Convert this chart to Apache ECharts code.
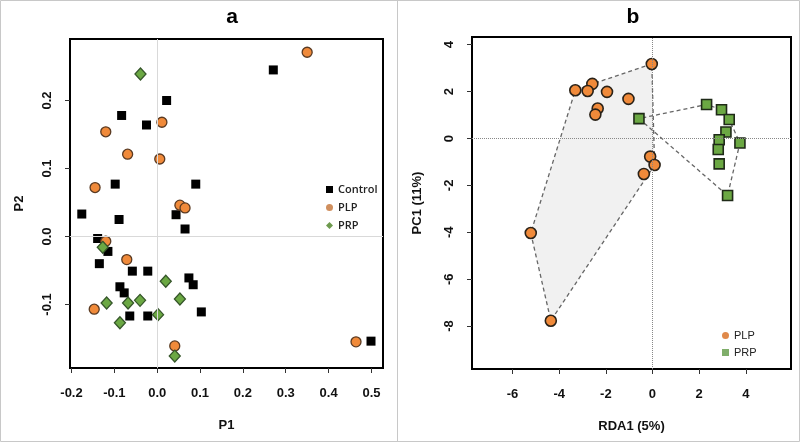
<!DOCTYPE html>
<html>
<head>
<meta charset="utf-8">
<script src="https://cdn.jsdelivr.net/npm/echarts@6/dist/echarts.min.js"></script>
<style>html,body{margin:0;padding:0;background:#fff}#c{width:800px;height:442px}</style>
</head>
<body>
<div id="c"></div>
<script>
// ---- Panel a data (P1, P2) ----
const controlA = [[0.271,0.245],[0.499,-0.154],[0.022,0.200],[-0.083,0.178],[-0.025,0.164],[-0.098,0.077],[0.090,0.077],[-0.176,0.033],[-0.089,0.025],[0.044,0.032],[0.065,0.011],[-0.139,-0.003],[-0.115,-0.022],[-0.135,-0.040],[-0.058,-0.051],[-0.022,-0.051],[0.074,-0.061],[0.084,-0.071],[-0.087,-0.074],[-0.077,-0.083],[0.103,-0.111],[-0.064,-0.117],[-0.022,-0.117]];
const plpA = [[0.350,0.271],[0.464,-0.155],[0.011,0.168],[-0.120,0.154],[-0.069,0.121],[0.006,0.114],[-0.145,0.072],[0.053,0.046],[0.065,0.042],[-0.120,-0.007],[-0.071,-0.034],[-0.147,-0.107],[0.041,-0.161]];
const prpA = [[-0.039,0.239],[-0.127,-0.016],[0.020,-0.066],[-0.118,-0.098],[-0.068,-0.098],[-0.040,-0.094],[0.053,-0.092],[0.002,-0.115],[-0.087,-0.127],[0.041,-0.176]];
const ticksAX = [-0.2,-0.1,0.0,0.1,0.2,0.3,0.4,0.5];
const ticksAY = [-0.1,0.0,0.1,0.2];

// ---- Panel b data (RDA1, PC1) ----
const plpB = [[-0.03,3.18],[-3.31,2.06],[-2.58,2.33],[-2.78,2.03],[-1.95,1.99],[-1.03,1.69],[-2.35,1.28],[-2.45,1.02],[-0.10,-0.77],[0.09,-1.13],[-0.37,-1.51],[-5.22,-4.03],[-4.36,-7.77]];
const prpB = [[-0.58,0.85],[2.32,1.45],[2.96,1.23],[3.29,0.81],[3.15,0.28],[2.86,-0.05],[3.75,-0.19],[2.82,-0.47],[2.86,-1.08],[3.22,-2.43]];
const ticksBX = [-6,-4,-2,0,2,4];
const ticksBY = [-8,-6,-4,-2,0,2,4];

function hull(pts){
  const p = pts.slice().sort((a,b)=>a[0]-b[0]||a[1]-b[1]);
  const cr=(o,a,b)=>(a[0]-o[0])*(b[1]-o[1])-(a[1]-o[1])*(b[0]-o[0]);
  const lo=[],up=[];
  for(const q of p){while(lo.length>=2&&cr(lo[lo.length-2],lo[lo.length-1],q)<=0)lo.pop();lo.push(q);}
  for(let i=p.length-1;i>=0;i--){const q=p[i];while(up.length>=2&&cr(up[up.length-2],up[up.length-1],q)<=0)up.pop();up.push(q);}
  up.pop();lo.pop();return lo.concat(up);
}
const hullPLP = hull(plpB), hullPRP = hull(prpB);

const tickFont = {fontFamily:'Liberation Sans',fontWeight:'bold',fontSize:13,color:'#111'};
const nameFont = {fontFamily:'Liberation Sans',fontWeight:'bold',fontSize:13,color:'#111'};
const ORANGE='#F08A3A', GREEN='#6BA843';

function axis(gi,min,max,ticks,fmt,isY,name,gap){
  return {
    type:'value', gridIndex:gi, min:min, max:max,
    name:name, nameLocation:'middle', nameGap:gap, nameTextStyle:nameFont,
    axisLine:{show:false,onZero:false}, splitLine:{show:false},
    axisTick:{show:true,inside:false,length:5,customValues:ticks,lineStyle:{color:'#333',width:1}},
    axisLabel:Object.assign({show:true,customValues:ticks,formatter:fmt,margin:isY?16:19,rotate:isY?90:0},tickFont)
  };
}

function hullSeries(xi,yi,pts,fill){
  return {
    type:'custom', xAxisIndex:xi, yAxisIndex:yi, z:1, silent:true,
    data:[0],
    renderItem:function(params,api){
      return {type:'polygon',shape:{points:pts.map(p=>api.coord(p))},
        style:{fill:fill,stroke:'#666',lineWidth:1.3,lineDash:[4,3]}};
    }
  };
}

const chart = echarts.init(document.getElementById('c'),null,{renderer:'canvas'});
chart.setOption({
  backgroundColor:'#fff',
  animation:false,
  title:[
    {text:'a',left:227,top:2,textAlign:'center',textStyle:{fontFamily:'Liberation Sans',fontWeight:'bold',fontSize:21,color:'#000'}},
    {text:'b',left:628,top:2,textAlign:'center',textStyle:{fontFamily:'Liberation Sans',fontWeight:'bold',fontSize:21,color:'#000'}}
  ],
  grid:[
    {left:70,top:39,width:313,height:329,show:true,borderColor:'#000',borderWidth:2,backgroundColor:'#fff'},
    {left:472,top:37,width:319,height:332,show:true,borderColor:'#000',borderWidth:2,backgroundColor:'#fff'}
  ],
  xAxis:[
    axis(0,-0.2035,0.527,ticksAX,v=>v.toFixed(1),false,'P1',51),
    axis(1,-7.74,5.94,ticksBX,v=>String(v),false,'RDA1 (5%)',51)
  ],
  yAxis:[
    axis(0,-0.1935,0.2905,ticksAY,v=>v.toFixed(1),true,'P2',44),
    axis(1,-9.83,4.33,ticksBY,v=>String(v),true,'PC1 (11%)',48)
  ],
  legend:[
    {orient:'vertical',left:321,top:179,itemWidth:7,itemHeight:7,itemGap:7,
     textStyle:{fontFamily:'Open Sans',fontWeight:600,fontSize:11,color:'#222'},
     data:[
      {name:'Control',icon:'rect',itemStyle:{color:'#000',borderWidth:0}},
      {name:'PLP',icon:'circle',itemStyle:{color:'#D08F5E',borderWidth:0}},
      {name:'PRP',icon:'diamond',itemStyle:{color:'#6E9A4E',borderWidth:0}}
     ]},
    {orient:'vertical',left:717,top:325,itemWidth:7,itemHeight:7,itemGap:6,
     textStyle:{fontFamily:'Liberation Sans',fontSize:11,color:'#222'},
     data:[
      {name:'PLP',icon:'circle',itemStyle:{color:'#E0894A',borderWidth:0}},
      {name:'PRP',icon:'rect',itemStyle:{color:'#7FAE6A',borderWidth:0}}
     ]}
  ],
  graphic:[
    {type:'rect',shape:{x:0.5,y:0.5,width:799,height:441},style:{fill:'none',stroke:'#c8c8c8',lineWidth:1},z:100},
    {type:'line',shape:{x1:397.5,y1:0,x2:397.5,y2:442},style:{stroke:'#c8c8c8',lineWidth:1},z:100}
  ],
  series:[
    {type:'scatter',name:'ref',xAxisIndex:0,yAxisIndex:0,data:[],z:1,silent:true,
     markLine:{silent:true,symbol:'none',label:{show:false},lineStyle:{color:'#d9d9d9',width:1,type:'solid'},
       data:[{xAxis:0},{yAxis:0}]}},
    {type:'scatter',name:'Control',xAxisIndex:0,yAxisIndex:0,data:controlA,symbol:'rect',symbolSize:9,z:3,
     itemStyle:{color:'#000',opacity:1}},
    {type:'scatter',name:'PLP',xAxisIndex:0,yAxisIndex:0,data:plpA,symbol:'circle',symbolSize:10,z:3,
     itemStyle:{color:ORANGE,borderColor:'#5a3a22',borderWidth:1.3,opacity:1}},
    {type:'scatter',name:'PRP',xAxisIndex:0,yAxisIndex:0,data:prpA,symbol:'diamond',symbolSize:[11,12],z:3,
     itemStyle:{color:GREEN,borderColor:'#35552a',borderWidth:1.3,opacity:1}},
    hullSeries(1,1,hullPLP,'#f1f1f1'),
    hullSeries(1,1,hullPRP,'rgba(255,255,255,0)'),
    {type:'scatter',name:'refb',xAxisIndex:1,yAxisIndex:1,data:[],z:2,silent:true,
     markLine:{silent:true,symbol:'none',label:{show:false},lineStyle:{color:'#888',width:1,type:'dotted'},
       data:[{xAxis:0},{yAxis:0}]}},
    {type:'scatter',name:'PLP',xAxisIndex:1,yAxisIndex:1,data:plpB,symbol:'circle',symbolSize:11,z:3,
     itemStyle:{color:ORANGE,borderColor:'#2a2218',borderWidth:1.6,opacity:1}},
    {type:'scatter',name:'PRP',xAxisIndex:1,yAxisIndex:1,data:prpB,symbol:'rect',symbolSize:10,z:3,
     itemStyle:{color:GREEN,borderColor:'#1f2a18',borderWidth:1.6,opacity:1}}
  ]
});
</script>
</body>
</html>
